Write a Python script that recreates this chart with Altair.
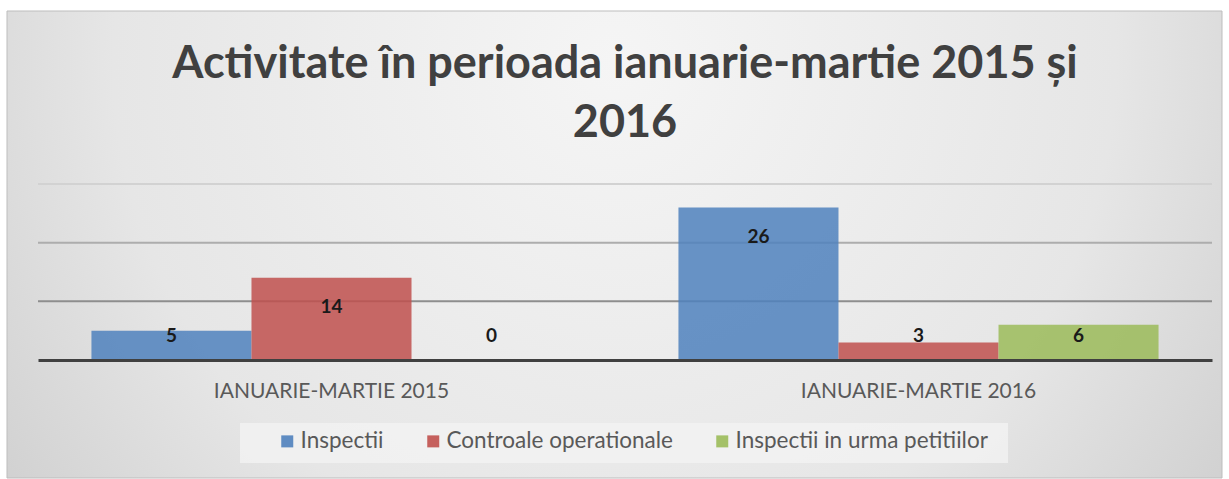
import altair as alt
import pandas as pd

title_lines = ["Activitate în perioada ianuarie-martie 2015 și", "2016"]
periods = ["IANUARIE-MARTIE 2015", "IANUARIE-MARTIE 2016"]
series = ["Inspectii", "Controale operationale", "Inspectii in urma petitiilor"]
values_2015 = [5, 14, 0]
values_2016 = [26, 3, 6]
grid_values = [10, 20, 30]

colors = ["#4F81BD", "#C0504D", "#9BBB59"]
grid_colors = ["#8e8e8e", "#adadad", "#d2d2d2"]

rows = []
for p, vals in zip(periods, [values_2015, values_2016]):
    for s, v in zip(series, vals):
        rows.append({"period": p, "series": s, "value": v})
df = pd.DataFrame(rows)

FONT = "Lato"

x_enc = alt.X("period:N", sort=periods,
              scale=alt.Scale(paddingInner=0, paddingOuter=0),
              axis=alt.Axis(title=None, labelAngle=0, labelFont=FONT, labelFontSize=21,
                            labelColor="#595959", labelPadding=20, ticks=False,
                            domainColor="#404040", domainWidth=3, grid=False, zindex=1,
                            labelLimit=0))
xo_enc = alt.XOffset("series:N", sort=series,
                     scale=alt.Scale(paddingOuter=0.334, paddingInner=0))
y_scale = alt.Scale(domain=[0, 30], nice=False)

one = pd.DataFrame({"a": [0]})

bg = alt.Chart(one).mark_rect(
    fill=alt.RadialGradient(
        gradient="radial",
        stops=[alt.GradientStop(color="#f5f5f5", offset=0),
               alt.GradientStop(color="#e6e6e6", offset=0.55),
               alt.GradientStop(color="#c2c2c2", offset=1)],
        x1=0.5, y1=0.35, x2=0.5, y2=0.35, r1=0, r2=0.75),
    stroke="#bdbdbd", strokeWidth=1,
).encode(x=alt.value(-31), x2=alt.value(1184), y=alt.value(-173), y2=alt.value(294))

legend_box = alt.Chart(one).mark_rect(fill="#f2f2f2", opacity=0.8).encode(
    x=alt.value(202), x2=alt.value(970), y=alt.value(239), y2=alt.value(279))

title = alt.Chart(one).mark_text(
    text=title_lines, font=FONT, fontSize=45, fontWeight="bold", color="#404040",
    align="center", baseline="alphabetic", lineHeight=59,
).encode(x=alt.value(587), y=alt.value(-106))

grids = [
    alt.Chart(pd.DataFrame({"g": [g]})).mark_rule(color=c, strokeWidth=2).encode(
        y=alt.Y("g:Q", scale=y_scale, axis=None))
    for g, c in zip(grid_values, grid_colors)
]

bars = alt.Chart(df).mark_bar(opacity=0.85).encode(
    x=x_enc,
    xOffset=xo_enc,
    y=alt.Y("value:Q", scale=y_scale, axis=None),
    color=alt.Color("series:N", sort=series,
                    scale=alt.Scale(domain=series, range=colors),
                    legend=alt.Legend(title=None, orient="none", legendX=238, legendY=246,
                                      direction="horizontal", symbolType="square",
                                      symbolSize=144, symbolOpacity=0.9,
                                      labelFont=FONT, labelFontSize=22.5, labelColor="#595959",
                                      labelOffset=2, columnPadding=38, padding=0,
                                      labelLimit=0, symbolStrokeWidth=0)),
)

labels = alt.Chart(df).transform_calculate(
    label_y="max(datum.value - 5, 4.1)"
).mark_text(font=FONT, fontSize=19, fontWeight="bold", color="#1a1a1a", baseline="middle").encode(
    x=x_enc,
    xOffset=xo_enc,
    y=alt.Y("label_y:Q", scale=y_scale, axis=None),
    text="value:Q",
)

chart = alt.layer(bg, legend_box, title, *grids, bars, labels).properties(
    width=1174, height=176,
    padding={"left": 38, "top": 184, "right": 17, "bottom": 119},
    autosize=alt.AutoSizeParams(type="none"),
).configure_view(stroke=None).configure(background="white")

chart.save("out.html", embed_options={"renderer": "svg", "actions": False})
